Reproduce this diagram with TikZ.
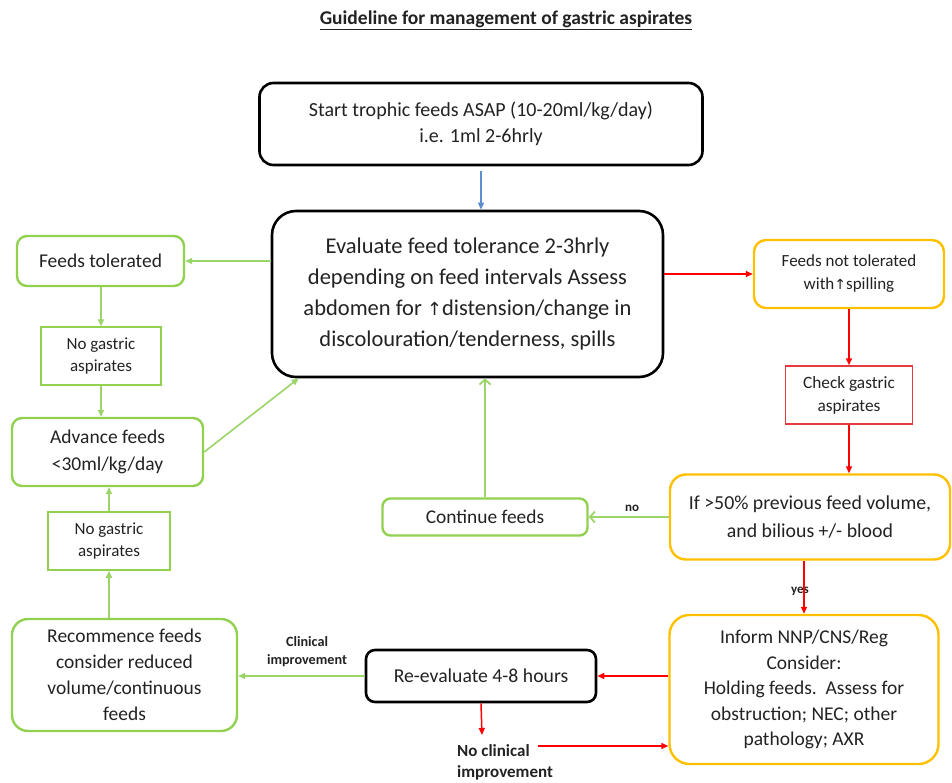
\documentclass[tikz,border=0pt]{standalone}
\usepackage{fontspec}
\setmainfont{Carlito}
\newfontfamily\symfont{DejaVu Sans}
\usetikzlibrary{arrows.meta}
\definecolor{fgreen}{HTML}{92D050}
\definecolor{agreen}{HTML}{9BD468}
\definecolor{fyellow}{HTML}{FFC000}
\definecolor{fred}{HTML}{FF0000}
\definecolor{bred}{HTML}{E8393F}
\definecolor{fblue}{HTML}{5B8FD0}
\definecolor{txt}{HTML}{222222}
\tikzset{
  box/.style={draw, rounded corners=14pt, align=center, text=txt, inner sep=0pt},
  blackbox/.style={box, line width=2.6pt, draw=black},
  greenbox/.style={box, line width=2.4pt, draw=fgreen},
  yellowbox/.style={box, line width=2.4pt, draw=fyellow},
  thingreen/.style={draw=fgreen, line width=1.5pt, align=center, text=txt, inner sep=0pt},
  thinred/.style={draw=bred, line width=1.5pt, align=center, text=txt, inner sep=0pt},
  redarr/.style={draw=fred, line width=1.5pt, -{Triangle[length=7pt,width=6pt]}},
  greenarr/.style={draw=agreen, line width=1.6pt, -{Triangle[length=7pt,width=6pt]}},
  greenopen/.style={draw=agreen, line width=1.8pt, -{Straight Barb[length=5pt,width=11pt]}},
  bluearr/.style={draw=fblue, line width=1.4pt, -{Triangle[length=7pt,width=6pt]}},
  lbl/.style={font=\bfseries, text=txt, align=center, inner sep=0pt}
}
\begin{document}
\begin{tikzpicture}[x=1pt,y=-1pt]
\useasboundingbox (0,0) rectangle (952,783);
% title
\node[lbl, font=\bfseries\fontsize{19.5}{22}\selectfont] (title) at (506,20) {\underline{Guideline for management of gastric aspirates}};
% boxes
\node[blackbox, minimum width=443pt, minimum height=82pt, font=\fontsize{20}{26}\selectfont] (top) at (481,124) {Start trophic feeds ASAP (10-20ml/kg/day)\\ i.e. 1ml 2-6hrly};
\node[blackbox, rounded corners=24pt, minimum width=391pt, minimum height=166pt, font=\fontsize{22.5}{31}\selectfont] (main) at (467.5,294) {Evaluate feed tolerance 2-3hrly\\ depending on feed intervals Assess\\ abdomen for {\symfont\fontsize{18}{18}\selectfont ↑}distension/change in\\ discolouration/tenderness, spills};
\node[greenbox, rounded corners=10pt, minimum width=167pt, minimum height=50pt, font=\fontsize{19.5}{22}\selectfont] (ft) at (100.5,261) {Feeds tolerated};
\node[thingreen, minimum width=120pt, minimum height=58pt, font=\fontsize{17}{22}\selectfont] (ng1) at (101,356) {No gastric\\ aspirates};
\node[greenbox, rounded corners=10pt, minimum width=191pt, minimum height=68pt, font=\fontsize{19.5}{27}\selectfont] (af) at (107.5,452) {Advance feeds\\ <30ml/kg/day};
\node[thingreen, minimum width=122pt, minimum height=58pt, font=\fontsize{17}{22}\selectfont] (ng2) at (109,541) {No gastric\\ aspirates};
\node[greenbox, rounded corners=16pt, minimum width=225pt, minimum height=112pt, font=\fontsize{19.5}{26}\selectfont] (rf) at (124.5,675) {Recommence feeds\\ consider reduced\\ volume/continuous\\ feeds};
\node[blackbox, rounded corners=9pt, minimum width=230pt, minimum height=52pt, font=\fontsize{19.7}{22}\selectfont] (re) at (481,676) {Re-evaluate 4-8 hours};
\node[yellowbox, rounded corners=20pt, minimum width=269pt, minimum height=149pt, font=\fontsize{19.5}{25.5}\selectfont] (inf) at (804,689.5) {Inform NNP/CNS/Reg\\ Consider:\\ Holding feeds.\ \ Assess for\\ obstruction; NEC; other\\ pathology; AXR};
\node[yellowbox, rounded corners=16pt, minimum width=280pt, minimum height=85pt, font=\fontsize{19.8}{28}\selectfont] (iff) at (810,517) {If >50\% previous feed volume,\\ and bilious +/- blood};
\node[greenbox, rounded corners=8pt, minimum width=205pt, minimum height=37pt, font=\fontsize{19.4}{22}\selectfont] (cf) at (485,517) {Continue feeds};
\node[yellowbox, rounded corners=12pt, minimum width=190pt, minimum height=68pt, font=\fontsize{17}{23}\selectfont] (fnt) at (849,274) {Feeds not tolerated\\ with{\symfont\fontsize{14}{14}\selectfont ↑}spilling};
\node[thinred, minimum width=127pt, minimum height=58pt, font=\fontsize{17.3}{23}\selectfont] (cg) at (849,395) {Check gastric\\ aspirates};
% labels
\node[lbl, font=\bfseries\fontsize{13}{14}\selectfont] (lno) at (632,508) {no};
\node[lbl, font=\bfseries\fontsize{13}{13}\selectfont] (lyes) at (800,591) {yes};
\node[lbl, font=\bfseries\fontsize{14.2}{18}\selectfont] (lci) at (307,652) {Clinical\\ improvement};
\node[lbl, align=left, anchor=west, font=\bfseries\fontsize{17}{21}\selectfont] (nci) at (457,762) {No clinical\\ improvement};
\coordinate (nciTop) at (482,735);
\coordinate (nciR) at (538,746);
% connectors
\draw[bluearr, shorten <=5pt] (top.south) -- (top.south |- main.north);
\draw[greenarr] (ft.east -| main.west) -- (ft.east);
\draw[greenarr] (ng1.north |- ft.south) -- (ng1.north);
\draw[greenarr] (ng1.south) -- (ng1.south |- af.north);
\draw[greenarr] (af.east) -- ([xshift=28pt]main.south west);
\draw[greenarr] (ng2.south |- rf.north) -- (ng2.south);
\draw[greenarr] (ng2.north) -- (ng2.north |- af.south);
\draw[greenarr] (re.west) -- (re.west -| rf.east);
\draw[greenopen] (cf.north) -- (cf.north |- main.south);
\draw[greenopen] (iff.west) -- (iff.west -| cf.east);
\draw[redarr] (fnt.west -| main.east) -- (fnt.west);
\draw[redarr] (fnt.south) -- (fnt.south |- cg.north);
\draw[redarr] (cg.south) -- (cg.south |- iff.north);
\draw[redarr] (inf.north |- iff.south) -- (inf.north);
\draw[redarr] (re.east -| inf.west) -- (re.east);
\draw[redarr] (re.south) -- (nciTop);
\draw[redarr] (nciR) -- (nciR -| inf.west);
\end{tikzpicture}
\end{document}
